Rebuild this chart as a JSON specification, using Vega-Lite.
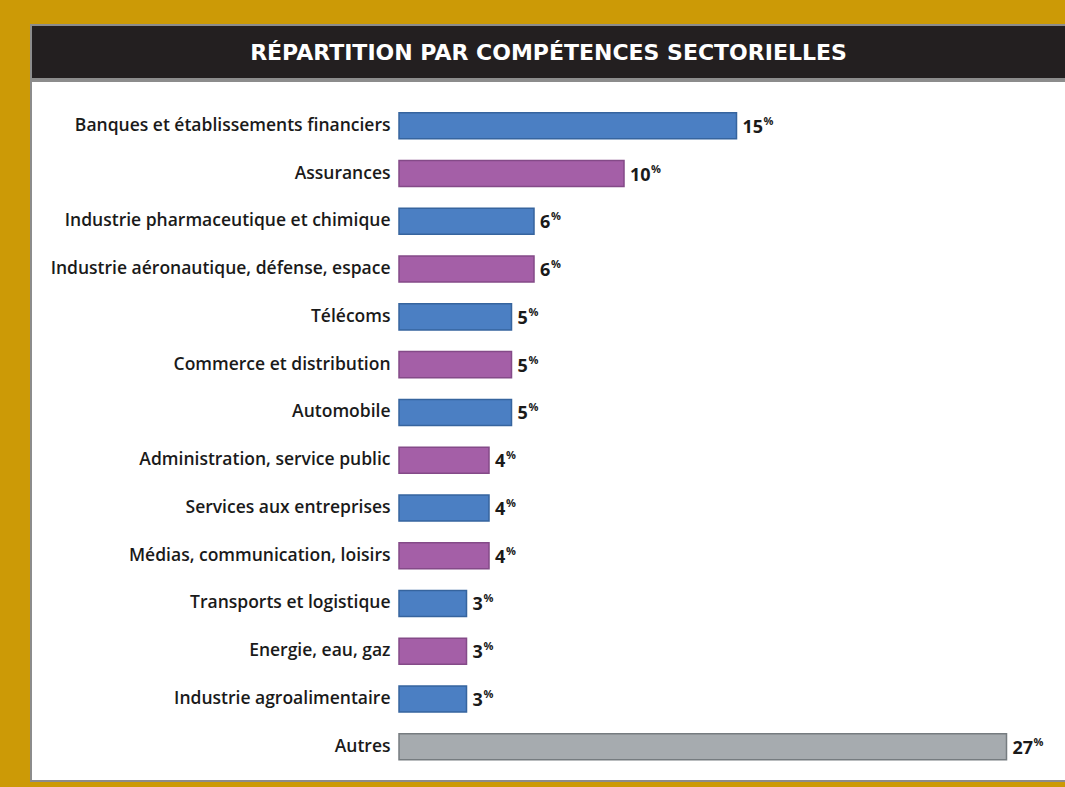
{
  "$schema": "https://vega.github.io/schema/vega-lite/v6.json",
  "background": "#cc9a06",
  "padding": {"left": 30, "top": 24, "right": 0, "bottom": 9},
  "spacing": 0,
  "config": {"view": {"stroke": null}},
  "datasets": {
    "secteurs": [
      {"secteur": "Banques et établissements financiers", "part": 15, "groupe": "a"},
      {"secteur": "Assurances", "part": 10, "groupe": "b"},
      {"secteur": "Industrie pharmaceutique et chimique", "part": 6, "groupe": "a"},
      {"secteur": "Industrie aéronautique, défense, espace", "part": 6, "groupe": "b"},
      {"secteur": "Télécoms", "part": 5, "groupe": "a"},
      {"secteur": "Commerce et distribution", "part": 5, "groupe": "b"},
      {"secteur": "Automobile", "part": 5, "groupe": "a"},
      {"secteur": "Administration, service public", "part": 4, "groupe": "b"},
      {"secteur": "Services aux entreprises", "part": 4, "groupe": "a"},
      {"secteur": "Médias, communication, loisirs", "part": 4, "groupe": "b"},
      {"secteur": "Transports et logistique", "part": 3, "groupe": "a"},
      {"secteur": "Energie, eau, gaz", "part": 3, "groupe": "b"},
      {"secteur": "Industrie agroalimentaire", "part": 3, "groupe": "a"},
      {"secteur": "Autres", "part": 27, "groupe": "autre"}
    ]
  },
  "vconcat": [
    {
      "width": 1035,
      "height": 54,
      "view": {"fill": "#231f20", "stroke": "#8c8c8c", "strokeWidth": 2},
      "data": {"values": [{"titre": "RÉPARTITION PAR COMPÉTENCES SECTORIELLES"}]},
      "mark": {"type": "text", "color": "#ffffff", "font": "DejaVu Sans", "fontSize": 22, "fontWeight": "bold", "baseline": "middle", "dy": 1},
      "encoding": {"text": {"field": "titre"}}
    },
    {
      "width": 1035,
      "height": 700,
      "view": {"fill": "#ffffff", "stroke": "#8c8c8c", "strokeWidth": 2},
      "data": {"name": "secteurs"},
      "encoding": {
        "y": {
          "field": "secteur", "type": "nominal", "sort": null,
          "scale": {"paddingInner": 0.455, "paddingOuter": 0.554, "align": 0.6},
          "axis": {"title": null, "orient": "left", "offset": -368, "domain": false, "ticks": false, "grid": false,
                   "labelPadding": 9, "labelFont": "Open Sans", "labelFontSize": 17.5, "labelFontWeight": 600,
                   "labelColor": "#1a1a1a", "labelLimit": 400}
        },
        "x": {"field": "part", "type": "quantitative", "scale": {"domain": [-16.356, 29.644], "nice": false, "zero": false}, "axis": null}
      },
      "layer": [
        {
          "mark": {"type": "bar", "strokeWidth": 1.5},
          "encoding": {
            "x2": {"datum": 0},
            "color": {"field": "groupe", "type": "nominal", "scale": {"domain": ["a", "b", "autre"], "range": ["#4b7fc3", "#a45fa7", "#a6abaf"]}, "legend": null},
            "stroke": {"field": "groupe", "type": "nominal", "scale": {"domain": ["a", "b", "autre"], "range": ["#36649e", "#844a88", "#767c80"]}, "legend": null}
          }
        },
        {
          "mark": {"type": "text", "align": "left", "baseline": "middle", "dx": 6, "dy": 2, "font": "Open Sans", "fontSize": 18, "fontWeight": "bold", "color": "#1a1a1a"},
          "encoding": {"text": {"field": "part", "type": "quantitative"}}
        },
        {
          "transform": [{"filter": "datum.part >= 10"}],
          "mark": {"type": "text", "align": "left", "baseline": "middle", "dx": 27, "dy": -4, "font": "Open Sans", "fontSize": 11, "fontWeight": "bold", "color": "#1a1a1a"},
          "encoding": {"text": {"value": "%"}}
        },
        {
          "transform": [{"filter": "datum.part < 10"}],
          "mark": {"type": "text", "align": "left", "baseline": "middle", "dx": 17, "dy": -4, "font": "Open Sans", "fontSize": 11, "fontWeight": "bold", "color": "#1a1a1a"},
          "encoding": {"text": {"value": "%"}}
        }
      ]
    }
  ]
}
